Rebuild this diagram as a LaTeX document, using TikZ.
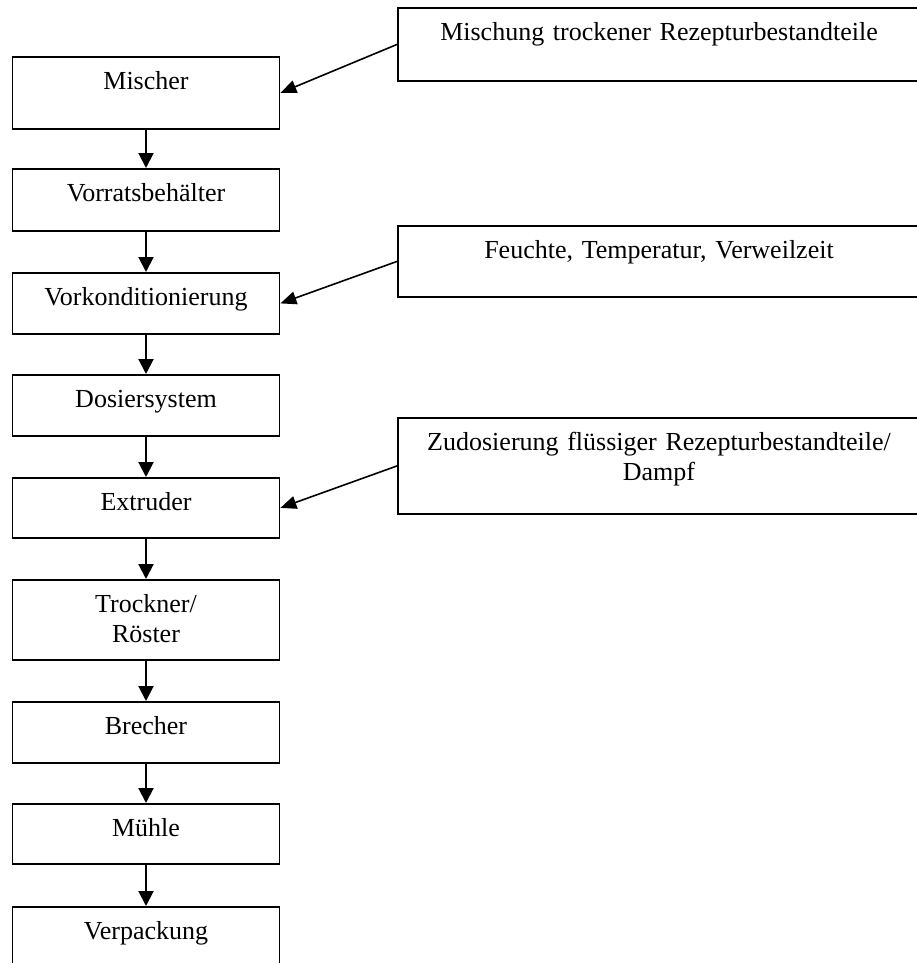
\documentclass[tikz,border=0pt]{standalone}
\usepackage{fontspec}
\setmainfont{Liberation Serif}
\usetikzlibrary{arrows.meta}

\begin{document}
\begin{tikzpicture}[x=1pt, y=-1pt,
        box_style/.style={draw=black, line width=1.8pt, anchor=north, minimum width=267pt, text width=255pt, align=center, inner xsep=6pt, inner ysep=7pt, text height=26pt, font=\fontsize{26}{29.5}\selectfont},
        input_style/.style={box_style, minimum width=522pt, text width=510pt},
        edge_style/.style={draw=black, line width=2pt, -{Triangle[length=15pt,width=15pt]}},
        feed_edge_style/.style={draw=black, line width=1.6pt, -{Triangle[length=16pt,width=13pt]}}]

        \path [use as bounding box, clip] (0,0) rectangle (917,963);

        \node [box_style, text depth=32pt] (mischer) at (146,56) {Mischer};

        \node [box_style, text depth=22pt] (vorrat) at (146,168) {Vorratsbehälter};

        \node [box_style, text depth=21pt] (vorkond) at (146,272) {Vorkonditionierung};

        \node [box_style, text depth=21pt] (dosier) at (146,374) {Dosiersystem};

        \node [box_style, text depth=20pt] (extruder) at (146,477) {Extruder};

        \node [box_style, text depth=40pt] (trockner) at (146,579) {Trockner/\\Röster};

        \node [box_style, text depth=21pt] (brecher) at (146,701) {Brecher};

        \node [box_style, text depth=20pt] (muehle) at (146,803) {Mühle};

        \node [box_style, text depth=40pt] (verpackung) at (146,906) {Verpackung};

        \node [input_style, text depth=33pt] (trocken) at (659,7) {Mischung trockener Rezepturbestandteile};

        \node [input_style, text depth=31pt] (klima) at (659,225) {Feuchte, Temperatur, Verweilzeit};

        \node [input_style, text depth=56pt] (fluessig) at (659,417) {Zudosierung flüssiger Rezepturbestandteile/\\Dampf};

        \path (mischer) edge [edge_style] (vorrat);

        \path (vorrat) edge [edge_style] (vorkond);

        \path (vorkond) edge [edge_style] (dosier);

        \path (dosier) edge [edge_style] (extruder);

        \path (extruder) edge [edge_style] (trockner);

        \path (trockner) edge [edge_style] (brecher);

        \path (brecher) edge [edge_style] (muehle);

        \path (muehle) edge [edge_style] (verpackung);

        \path (trocken.west) edge [feed_edge_style] (mischer.east);

        \path (klima.west) edge [feed_edge_style] (vorkond.east);

        \path (fluessig.west) edge [feed_edge_style] (extruder.east);

        \end{tikzpicture}
\end{document}
